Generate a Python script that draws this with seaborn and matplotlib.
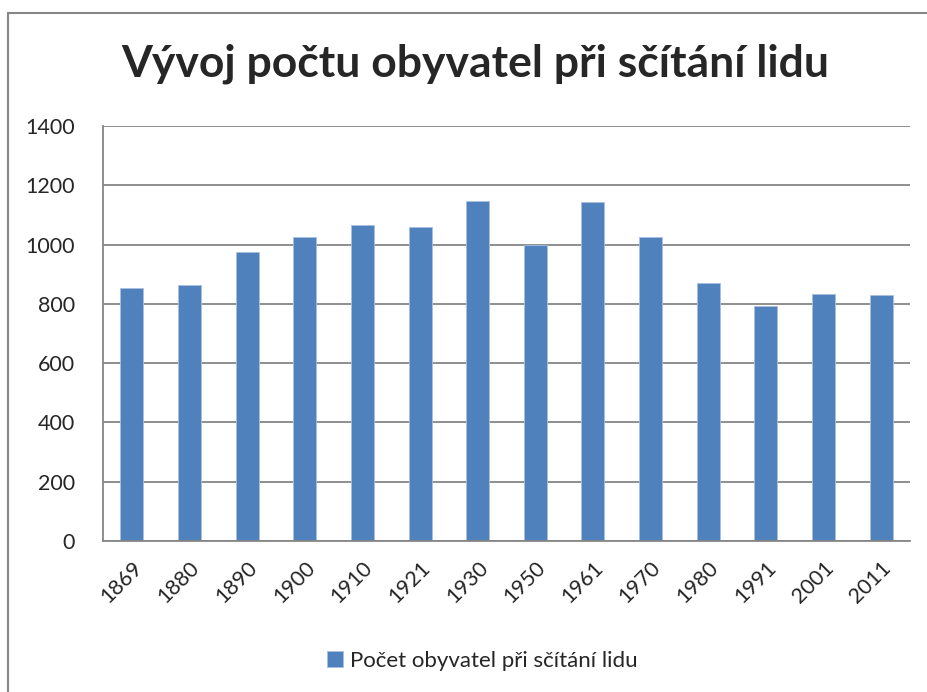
import pandas as pd
import matplotlib as mpl
import matplotlib.pyplot as plt
import seaborn as sns
from matplotlib.patches import Rectangle

years = ["1869", "1880", "1890", "1900", "1910", "1921", "1930",
         "1950", "1961", "1970", "1980", "1991", "2001", "2011"]
population = [852, 865, 974, 1025, 1066, 1058, 1148,
              999, 1144, 1026, 871, 792, 832, 830]
series_name = "Počet obyvatel při sčítání lidu"
title = "Vývoj počtu obyvatel při sčítání lidu"
y_ticks = [0, 200, 400, 600, 800, 1000, 1200, 1400]

sns.set_style("white")
plt.rcParams["font.family"] = ["Lato", "DejaVu Sans"]

df = pd.DataFrame({"Rok": years, "Obyvatel": population, "Serie": series_name})

fig = plt.figure(figsize=(9.28, 6.92), dpi=100)
ax = fig.add_axes([103 / 928, 1 - 541 / 692, (910 - 103) / 928, (541 - 126) / 692])

sns.barplot(data=df, x="Rok", y="Obyvatel", hue="Serie", palette=["#4F81BD"],
            saturation=1, width=0.4, edgecolor="#A9C0E0", linewidth=0.6, ax=ax)

handles, labels = ax.get_legend_handles_labels()
ax.get_legend().remove()

ax.set_xlim(-0.5, len(years) - 0.5)
ax.set_ylim(0, 1400)
ax.set_yticks(y_ticks)
ax.set_yticklabels([str(t) for t in y_ticks], fontsize=15.5)
ax.set_xlabel("")
ax.set_ylabel("")

# category labels rotated, tick marks between categories
ax.set_xticks(range(len(years)))
ax.set_xticklabels(years, rotation=45, ha="right", rotation_mode="anchor", fontsize=15.5)
ax.tick_params(axis="x", which="major", length=0, pad=12)
ax.set_xticks([i - 0.5 for i in range(len(years) + 1)], minor=True)
ax.tick_params(axis="x", which="minor", length=8, width=1.2, color="#868686", direction="out")
ax.tick_params(axis="y", length=8, width=1.2, color="#868686", direction="out", pad=12)

ax.grid(axis="y", color="#868686", linewidth=1.3)
ax.set_axisbelow(True)
for side in ["top", "right"]:
    ax.spines[side].set_visible(False)
for side in ["left", "bottom"]:
    ax.spines[side].set_color("#868686")
    ax.spines[side].set_linewidth(1.3)

fig.text(475 / 928, 1 - 64 / 692, title, ha="center", va="center",
         fontsize=32, fontweight="bold")

fig.legend(handles, labels, loc="center", bbox_to_anchor=(482 / 928, 1 - 661 / 692),
           frameon=False, fontsize=16, handlelength=0.75, handleheight=0.75,
           handletextpad=0.3)

# outer chart frame (right and bottom edges lie outside the image)
fig.patches.append(Rectangle((8 / 928, -0.1), 1.2, 1 - 13 / 692 + 0.1,
                             transform=fig.transFigure, fill=False,
                             edgecolor="#868686", linewidth=1.5))

fig.savefig("out.png", dpi=100)
